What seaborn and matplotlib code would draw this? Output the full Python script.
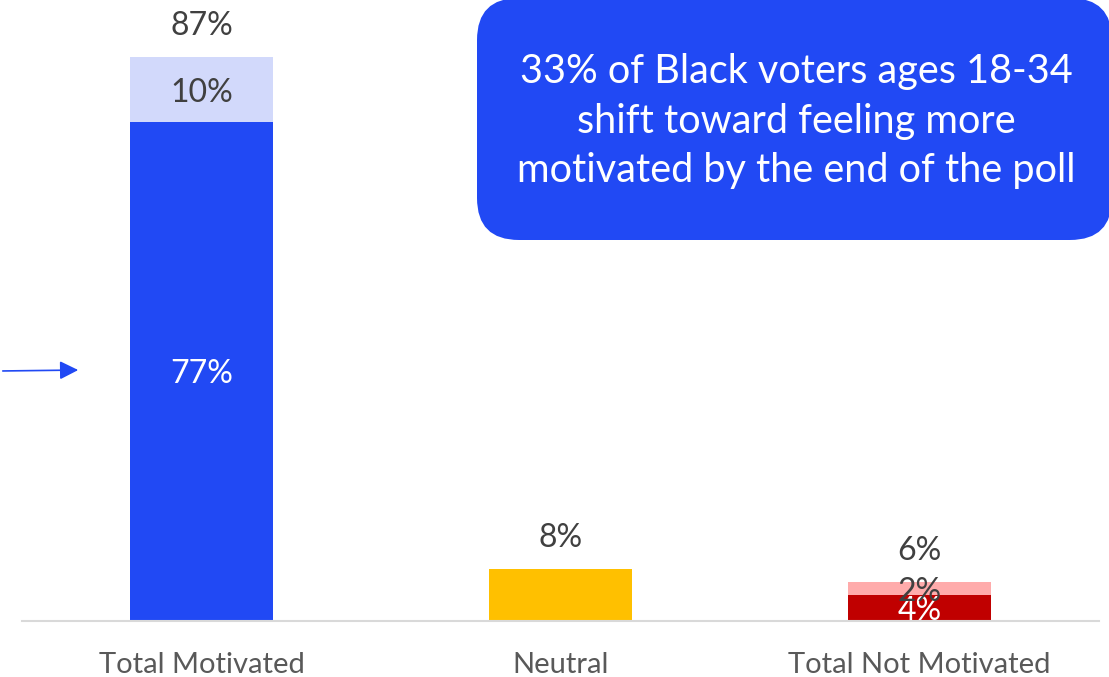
import matplotlib
matplotlib.use("Agg")
import matplotlib.pyplot as plt
import seaborn as sns
from matplotlib.patches import FancyBboxPatch, FancyArrowPatch
from matplotlib.transforms import IdentityTransform

categories = ["Total Motivated", "Neutral", "Total Not Motivated"]
base_vals = [77, 8, 4]
shift_vals = [10, 0, 2]
total_vals = [87, 8, 6]
callout = "33% of Black voters ages 18-34\nshift toward feeling more\nmotivated by the end of the poll"

BLUE = "#2149F4"
LIGHT = "#D2D9FB"
YELLOW = "#FFC000"
DARKRED = "#C00000"
PINK = "#FFABAB"
GRAY = "#404040"

sns.set_style("white")
plt.rcParams["font.family"] = ["Lato", "DejaVu Sans"]

W, H = 1109, 677
fig = plt.figure(figsize=(W / 100, H / 100), dpi=100)
ax = fig.add_axes([22 / W, (H - 621) / H, (1099 - 22) / W, 621 / H])

sns.barplot(x=categories, y=total_vals, hue=categories, palette=[LIGHT, YELLOW, PINK],
            width=0.4, legend=False, ax=ax, saturation=1, linewidth=0)
sns.barplot(x=categories, y=base_vals, hue=categories, palette=[BLUE, YELLOW, DARKRED],
            width=0.4, legend=False, ax=ax, saturation=1, linewidth=0)

ax.set_ylim(0, 95.8)
ax.set_xlim(-0.5, 2.5)
ax.set_yticks([])
ax.set_xlabel("")
ax.set_ylabel("")
for s in ["top", "left", "right"]:
    ax.spines[s].set_visible(False)
ax.spines["bottom"].set_color("#D9D9D9")
ax.spines["bottom"].set_linewidth(1.5)
ax.tick_params(axis="x", length=0, pad=22, labelsize=21, labelcolor="#595959")

LBL = 23
# total labels above bars
for i, t in enumerate(total_vals):
    ax.annotate(f"{t}%", (i, t), xytext=(0, 22.5), textcoords="offset points",
                ha="center", va="center", fontsize=LBL, color=GRAY)

# segment labels
for i, (b, s) in enumerate(zip(base_vals, shift_vals)):
    if s > 0:
        ax.annotate(f"{b}%", (i, b / 2), xytext=(0, -2.2), textcoords="offset points",
                    ha="center", va="center", fontsize=LBL, color="white")
        ax.annotate(f"{s}%", (i, b + s / 2), xytext=(0, -2.2), textcoords="offset points",
                    ha="center", va="center", fontsize=LBL, color=GRAY)

# callout box (pixel coordinates from top-left)
box = FancyBboxPatch((477, H - 240), 1112 - 477, 242,
                     boxstyle="round,pad=0,rounding_size=42",
                     transform=IdentityTransform(), facecolor=BLUE, edgecolor="none",
                     zorder=5)
fig.patches.append(box)
fig.text(796 / W, (H - 121) / H, callout, ha="center", va="center", color="white",
         fontsize=28.5, linespacing=1.42, zorder=6)

# arrow at left
fig.add_artist(FancyArrowPatch(
    (0, H - 371), (81, H - 370), transform=IdentityTransform(),
    arrowstyle="-|>", mutation_scale=28, color=BLUE, lw=1.2))

fig.savefig("out.png", dpi=100)
